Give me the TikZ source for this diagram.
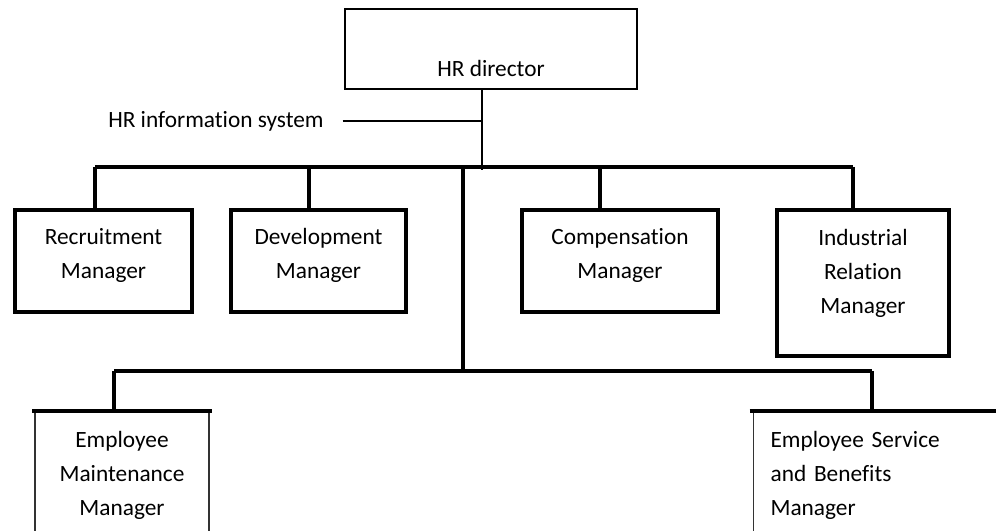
\documentclass[tikz,border=0pt]{standalone}
\usepackage{fontspec}
\setmainfont{Carlito}[Ligatures=NoCommon]
\newcommand\mlines[3][c]{\raisebox{#2}[\height][\depth]{%
  \begin{tabular}{@{}#1@{}}#3\end{tabular}}}
\begin{document}
\begin{tikzpicture}[x=0.75pt,y=-0.75pt,
    every node/.style={font=\fontsize{17.5}{25.5}\selectfont,align=center,inner sep=0pt},
    mgr/.style={draw,line width=2.4pt},
    openbox/.style={draw=black!80,line width=0.9pt,anchor=north,
                    minimum height=93pt},
    bus/.style={line width=2.4pt},
    fine/.style={line width=0.9pt}]
  \useasboundingbox (0,0) rectangle (996,531);
  % top
  \node[draw,fine,minimum width=219pt,minimum height=60pt] (dir) at (491,49)
       {\raisebox{-21pt}[0pt][0pt]{HR director}};
  \node[anchor=west] (hris) at (108,121) {HR information system};
  \coordinate (foot) at (482,170);
  \draw[fine] (dir.south -| foot) -- (foot);
  \draw[fine,shorten <=14pt] (hris.east) -- (hris.east -| foot);
  % first row
  \node[mgr,minimum width=132.75pt,minimum height=76.5pt] (rec) at (103.5,261)
       {\mlines{4.5pt}{Recruitment\\Manager}};
  \node[mgr,minimum width=131.25pt,minimum height=76.5pt] (dev) at (318.5,261)
       {\mlines{4.5pt}{Development\\Manager}};
  \node[mgr,minimum width=147pt,minimum height=76.5pt] (comp) at (620,261)
       {\mlines{4.5pt}{Compensation\\Manager}};
  \node[mgr,minimum width=129pt,minimum height=109.5pt] (ind) at (863,283)
       {\mlines{8pt}{Industrial\\Relation\\Manager}};
  \coordinate (b1) at (95,167);
  \coordinate (b2) at (309,167);
  \coordinate (b3) at (600,167);
  \coordinate (b4) at (853,167);
  \coordinate (trunk) at (463,167);
  \draw[bus] (b1) -- (b4);
  \draw[bus] (b1) -- (b1 |- rec.north);
  \draw[bus] (b2) -- (b2 |- dev.north);
  \draw[bus] (b3) -- (b3 |- comp.north);
  \draw[bus] (b4) -- (b4 |- ind.north);
  % second row
  \node[openbox,minimum width=130.5pt] (maint) at (122,411)
       {\mlines{-1pt}{Employee\\Maintenance\\Manager}};
  \node[openbox,anchor=north west,minimum width=202.5pt,inner xsep=12.75pt,
        text width=177pt,align=left] (serv) at (753,411)
       {\mlines[l]{-1pt}{Employee Service\\and Benefits\\Manager}};
  \draw[bus,shorten <=-1.5pt,shorten >=-1.5pt] (maint.north west) -- (maint.north east);
  \draw[bus,shorten <=-2.5pt] (serv.north west) -- (serv.north east);
  \coordinate (c1) at (114,371);
  \coordinate (c2) at (872,371);
  \draw[bus] (trunk) -- (trunk |- c1);
  \draw[bus] (c1) -- (c2);
  \draw[bus] (c1) -- (c1 |- maint.north);
  \draw[bus] (c2) -- (c2 |- serv.north);
\end{tikzpicture}
\end{document}
